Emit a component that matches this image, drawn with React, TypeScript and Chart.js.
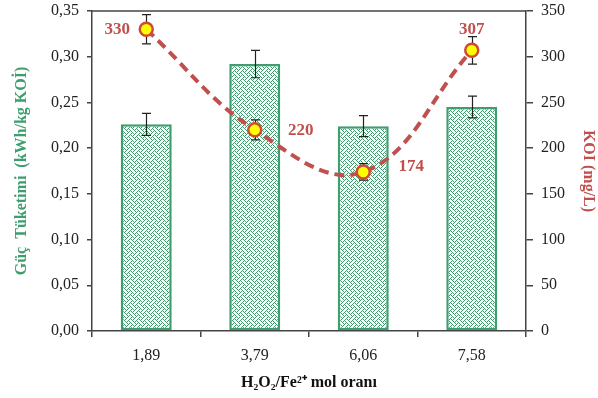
import React, { useEffect, useRef } from "react";
import { Chart, registerables } from "chart.js";

Chart.register(...registerables);

const categories = ["1,89", "3,79", "6,06", "7,58"];
const powerValues = [0.226, 0.292, 0.224, 0.245];
const powerErrors = [0.012, 0.015, 0.0115, 0.012];
const codValues = [330, 220, 174, 307];
const codErrors = [16, 11, 9, 15];
const codLabels = ["330", "220", "174", "307"];

const leftTicks = [0, 0.05, 0.1, 0.15, 0.2, 0.25, 0.3, 0.35];

// label placement relative to each point (style only)
const labelOffsets = [
  [-29, 0],
  [46, 1],
  [48, -5],
  [0, -21],
];

const RED = "#C0504D";
const GREEN = "#3E9E6E";
const SERIF = "'Liberation Serif', 'Times New Roman', serif";

function makePattern(): CanvasPattern | string {
  const c = document.createElement("canvas");
  c.width = 8;
  c.height = 8;
  const g = c.getContext("2d");
  if (!g) return GREEN;
  g.fillStyle = "#ffffff";
  g.fillRect(0, 0, 8, 8);
  const bits = [
    "10001000",
    "01000101",
    "00100010",
    "01010001",
    "10001000",
    "00010101",
    "00100010",
    "01010100",
  ];
  g.fillStyle = "#3A9E6C";
  bits.forEach((row, y) => {
    for (let x = 0; x < 8; x++) if (row[x] === "1") g.fillRect(x, y, 1, 1);
  });
  const p = g.createPattern(c, "repeat");
  return p || GREEN;
}

function drawErr(ctx: CanvasRenderingContext2D, x: number, yTop: number, yBot: number, cap: number) {
  ctx.beginPath();
  ctx.moveTo(x, yTop);
  ctx.lineTo(x, yBot);
  ctx.moveTo(x - cap, yTop);
  ctx.lineTo(x + cap, yTop);
  ctx.moveTo(x - cap, yBot);
  ctx.lineTo(x + cap, yBot);
  ctx.stroke();
}

const extrasPlugin = {
  id: "extras",
  afterDatasetDraw(chart: any, args: any) {
    if (args.index !== 0) return;
    const ctx = chart.ctx;
    const meta = chart.getDatasetMeta(0);
    const ys = chart.scales.y;
    ctx.save();
    ctx.strokeStyle = "#222";
    ctx.lineWidth = 1.2;
    meta.data.forEach((bar: any, i: number) => {
      const v = powerValues[i];
      const e = powerErrors[i];
      drawErr(ctx, Math.round(bar.x) + 0.5, ys.getPixelForValue(v + e), ys.getPixelForValue(v - e), 4.5);
    });
    ctx.restore();
  },
  beforeDatasetDraw(chart: any, args: any) {
    if (args.index !== 1) return;
    const ctx = chart.ctx;
    const meta = chart.getDatasetMeta(1);
    const ys = chart.scales.y1;
    ctx.save();
    ctx.strokeStyle = "#222";
    ctx.lineWidth = 1.2;
    meta.data.forEach((pt: any, i: number) => {
      const v = codValues[i];
      const e = codErrors[i];
      drawErr(ctx, Math.round(pt.x) + 0.5, ys.getPixelForValue(v + e), ys.getPixelForValue(v - e), 4.5);
    });
    ctx.restore();
  },
  afterDatasetsDraw(chart: any) {
    const ctx = chart.ctx;
    const meta = chart.getDatasetMeta(1);
    ctx.save();
    ctx.fillStyle = RED;
    ctx.font = `bold 17px ${SERIF}`;
    ctx.textAlign = "center";
    ctx.textBaseline = "middle";
    meta.data.forEach((pt: any, i: number) => {
      const [dx, dy] = labelOffsets[i];
      ctx.fillText(codLabels[i], pt.x + dx, pt.y + dy);
    });
    const a = chart.chartArea;
    ctx.strokeStyle = "#444";
    ctx.lineWidth = 1.5;
    ctx.beginPath();
    ctx.moveTo(a.left, a.top);
    ctx.lineTo(a.right, a.top);
    ctx.stroke();
    ctx.restore();
  },
};

export default function App() {
  const ref = useRef<HTMLCanvasElement | null>(null);

  useEffect(() => {
    if (!ref.current) return;
    const pattern = makePattern();
    const tickFont = { family: SERIF, size: 16 };
    const chart = new Chart(ref.current, {
      type: "bar",
      data: {
        labels: categories,
        datasets: [
          {
            type: "bar",
            label: "Güç Tüketimi",
            data: powerValues,
            yAxisID: "y",
            backgroundColor: pattern as any,
            borderColor: GREEN,
            borderWidth: 2.5,
            borderSkipped: false,
            barPercentage: 0.47,
            categoryPercentage: 1,
            order: 2,
          },
          {
            type: "line",
            label: "KOI",
            data: codValues,
            yAxisID: "y1",
            borderColor: RED,
            borderWidth: 4,
            borderDash: [10, 6],
            tension: 0.4,
            pointRadius: 6.5,
            pointBorderWidth: 2.5,
            pointBackgroundColor: "#FFFF00",
            pointBorderColor: "#D04A3A",
            order: 1,
          },
        ],
      } as any,
      options: {
        animation: false,
        responsive: true,
        maintainAspectRatio: false,
        layout: { padding: { top: 11, left: 0, right: 0, bottom: 0 } },
        plugins: { legend: { display: false }, tooltip: { enabled: false } },
        scales: {
          x: {
            type: "category",
            offset: true,
            grid: { display: true, drawOnChartArea: false, offset: true, tickLength: 6, color: "#444", lineWidth: 1.5 },
            border: { color: "#444", width: 1.5 },
            ticks: { font: tickFont, color: "#222", padding: 9 },
            title: {
              display: true,
              text: "H₂O₂/Fe²⁺ mol oranı",
              font: { family: SERIF, size: 16, weight: "bold" },
              color: "#111",
              padding: { top: 0, bottom: 6 },
            },
            afterFit: (s: any) => {
              s.height = 67;
              s.paddingLeft = 0;
              s.paddingRight = 0;
            },
          },
          y: {
            position: "left",
            min: 0,
            max: 0.35,
            afterBuildTicks: (s: any) => {
              s.ticks = leftTicks.map((v) => ({ value: v }));
            },
            grid: { display: true, drawOnChartArea: false, tickLength: 5, color: "#444", lineWidth: 1.5 },
            border: { color: "#444", width: 1.5 },
            ticks: {
              font: tickFont,
              color: "#222",
              padding: 8,
              callback: (v: any) => Number(v).toFixed(2).replace(".", ","),
            },
            title: {
              display: true,
              text: "Güç  Tüketimi  (kWh/kg KOİ)",
              font: { family: SERIF, size: 16, weight: "bold" },
              color: "#3E9E6E",
              padding: { top: 12, bottom: 0 },
            },
            afterFit: (s: any) => {
              s.width = 92;
              s.paddingTop = 0;
              s.paddingBottom = 0;
            },
          },
          y1: {
            position: "right",
            min: 0,
            max: 350,
            ticks: { stepSize: 50, font: tickFont, color: "#222", padding: 8 },
            grid: { display: true, drawOnChartArea: false, tickLength: 7, color: "#444", lineWidth: 1.5 },
            border: { color: "#444", width: 1.5 },
            title: {
              display: true,
              text: "KOI (mg/L)",
              font: { family: SERIF, size: 16, weight: "bold" },
              color: RED,
              padding: { top: 0, bottom: 0 },
            },
            afterFit: (s: any) => {
              s.width = 72;
              s.paddingTop = 0;
              s.paddingBottom = 0;
            },
          },
        },
      } as any,
      plugins: [extrasPlugin],
    });
    return () => chart.destroy();
  }, []);

  return (
    <div style={{ position: "fixed", left: 0, top: 0, width: 598, height: 398, background: "#fff" }}>
      <canvas ref={ref} />
    </div>
  );
}
